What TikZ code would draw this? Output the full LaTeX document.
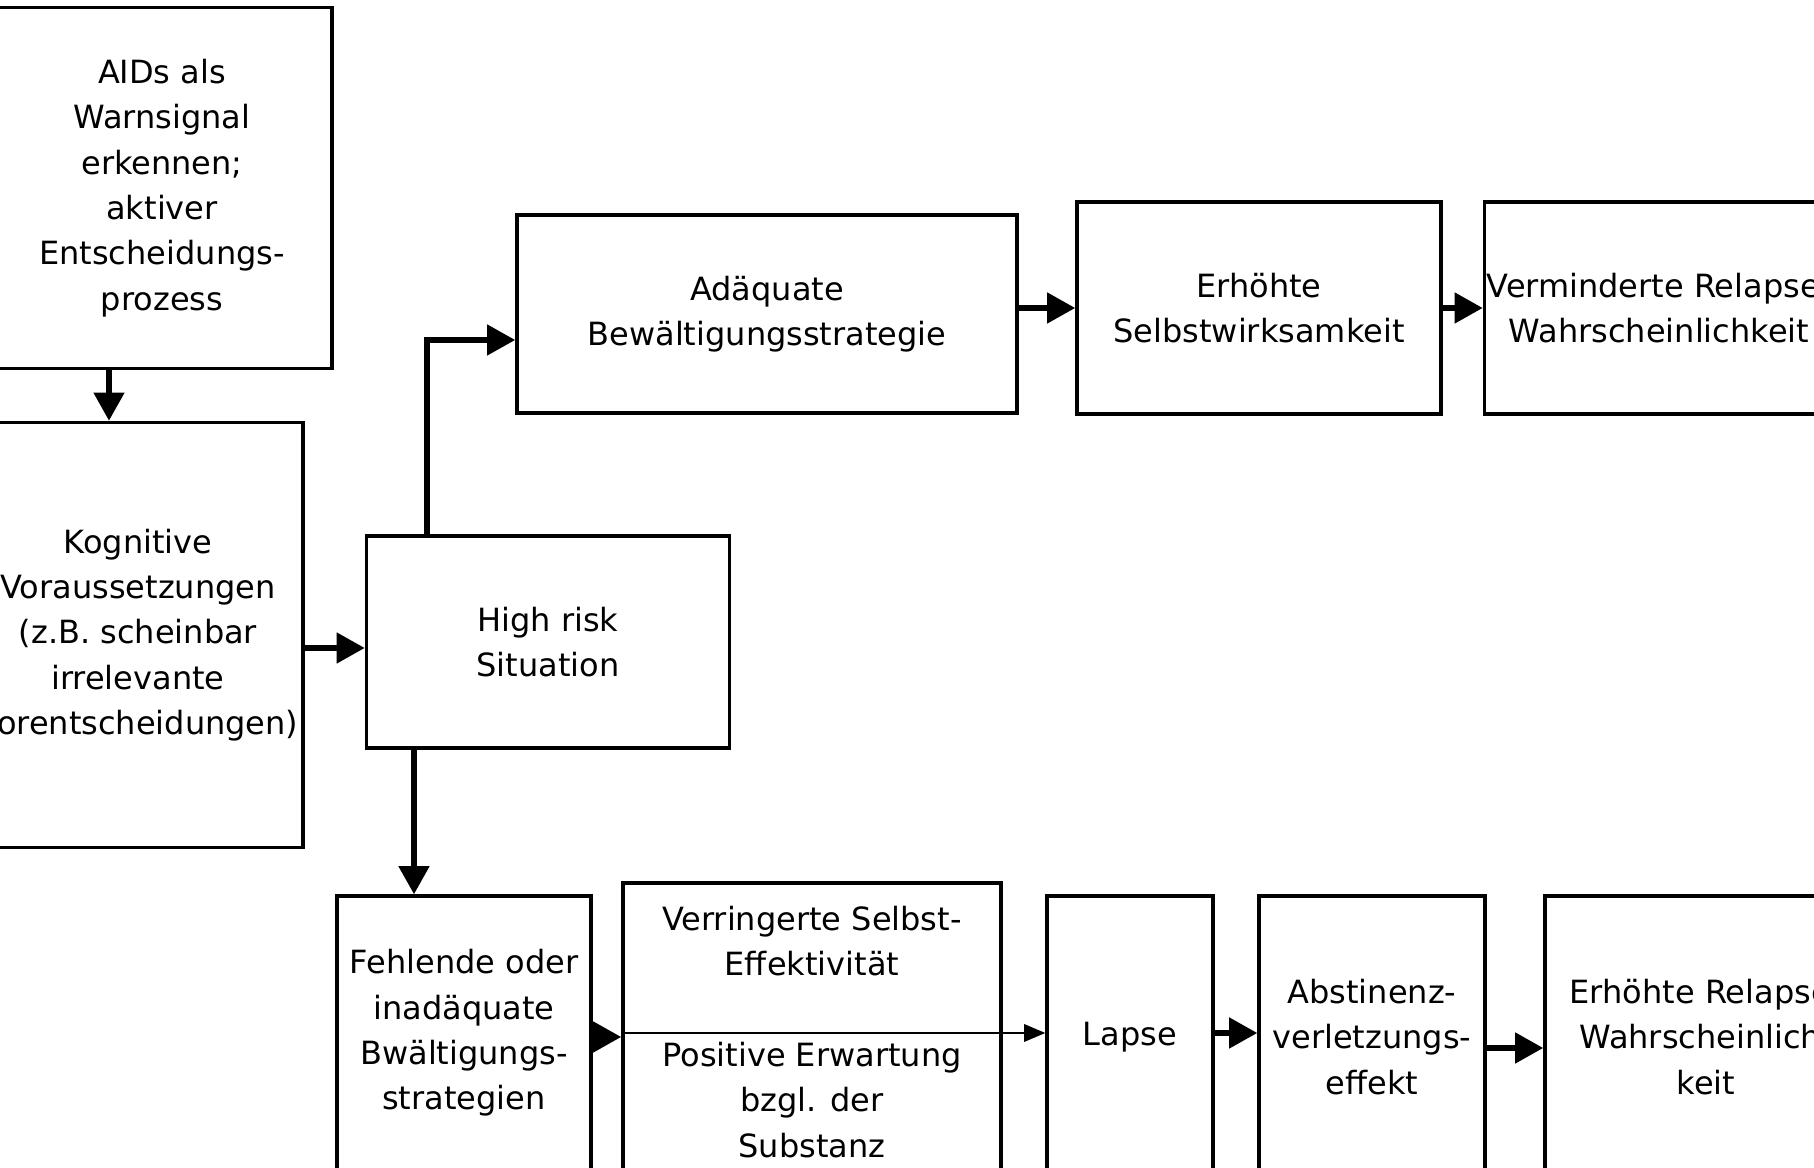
\documentclass[tikz,border=0pt]{standalone}
\usepackage{fontspec}
\setmainfont{DejaVu Sans}
\usetikzlibrary{arrows.meta}

\begin{document}
\begin{tikzpicture}[x=0.01cm, y=-0.01cm,
    box/.style={draw, line width=0.95pt, align=center, inner sep=0pt,
                font=\fontsize{9.1}{12.9}\selectfont},
    flow/.style={line width=1.5pt, -{Triangle[length=8pt, width=8.5pt]}},
    thinflow/.style={line width=0.4pt, -{Triangle[length=6pt, width=5pt]}}]
    \useasboundingbox (0,0) rectangle (1814,1168);
    % Left column
    \node[box, minimum width=3.4cm, minimum height=3.61cm] (aids) at (162,188)
        {AIDs als\\Warnsignal\\erkennen;\\aktiver\\Entscheidungs-\\prozess};
    \node[box, minimum width=3.3cm, minimum height=4.25cm] (kog) at (138,635)
        {Kognitive\\Voraussetzungen\\(z.B. scheinbar\\irrelevante\\Vorentscheidungen)};
    \node[box, minimum width=3.63cm, minimum height=2.12cm] (high) at (548,642)
        {High risk\\Situation};
    % Upper branch
    \node[box, minimum width=5cm, minimum height=1.98cm] (adq) at (767,314)
        {Adäquate\\Bewältigungsstrategie};
    \node[box, minimum width=3.64cm, minimum height=2.12cm] (selbst) at (1259,308)
        {Erhöhte\\Selbstwirksamkeit};
    \node[box, minimum width=3.49cm, minimum height=2.12cm] (vermin) at (1659,308)
        {Verminderte Relapse-\\Wahrscheinlichkeit};
    % Lower branch
    \node[box, minimum width=2.54cm, minimum height=2.74cm] (fehl) at (464,1033)
        {Fehlende oder\\inadäquate\\Bwältigungs-\\strategien};
    \node[box, minimum width=3.78cm, minimum height=2.98cm] (verr) at (812,1032)
        {Verringerte Selbst-\\Effektivität\\[12.9pt]Positive Erwartung\\bzgl. der\\ Substanz};
    \node[box, minimum width=1.66cm, minimum height=2.82cm] (lapse) at (1130,1037)
        {Lapse};
    \node[box, minimum width=2.26cm, minimum height=2.82cm] (abst) at (1372,1037)
        {Abstinenz-\\verletzungs-\\effekt};
    \node[box, minimum width=3.22cm, minimum height=2.82cm] (relaps) at (1706,1037)
        {Erhöhte Relapse-\\Wahrscheinlich-\\keit};
    % Connectors
    \draw[flow] (aids.south -| 109,0) -- (kog.north -| 109,0);
    \draw[flow] (kog.east |- 0,648) -- (high.west |- 0,648);
    \draw[flow] (high.north -| 427,0) |- (adq.west |- 0,340);
    \draw[flow] (high.south -| 414,0) -- (fehl.north -| 414,0);
    \draw[flow] (adq.east |- 0,308) -- (selbst.west |- 0,308);
    \draw[flow] (selbst.east) -- (vermin.west);
    \draw[flow] (fehl.east |- 0,1037) -- (verr.west |- 0,1037);
    \draw[thinflow] (verr.west |- 0,1033) -- (lapse.west |- 0,1033);
    \draw[flow] (lapse.east |- 0,1033) -- (abst.west |- 0,1033);
    \draw[flow] (abst.east |- 0,1048) -- (relaps.west |- 0,1048);
\end{tikzpicture}
\end{document}
